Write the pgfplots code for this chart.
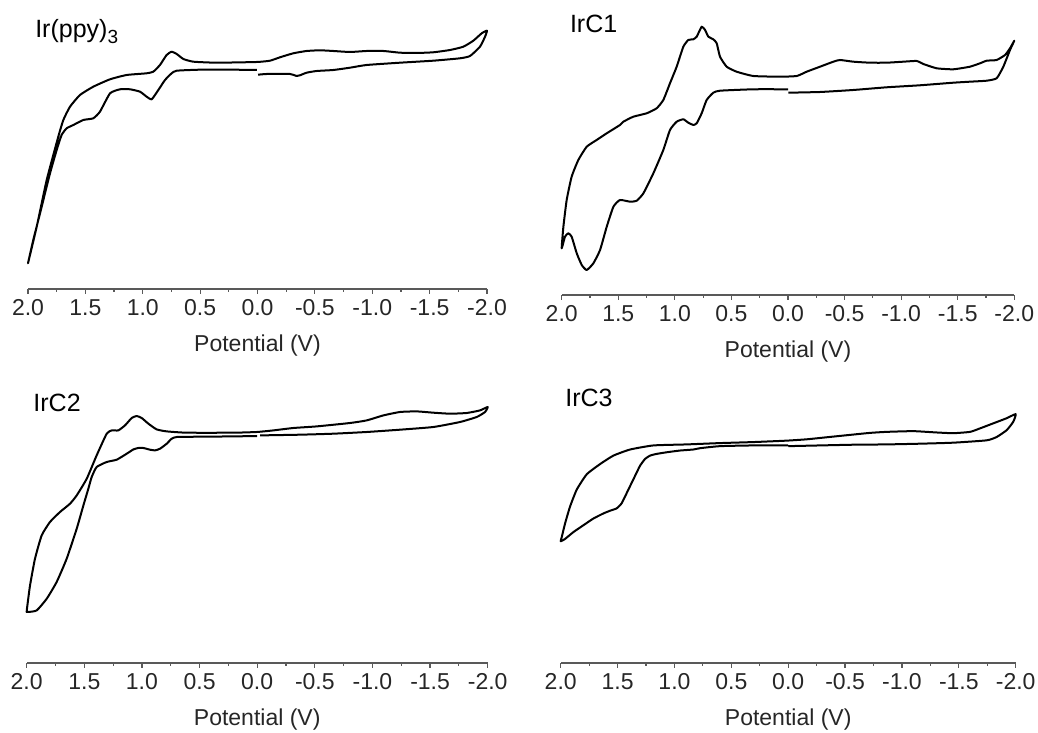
\documentclass[border=0pt]{standalone}
\usepackage{fontspec}
\setmainfont{Liberation Sans}
\usepackage{pgfplots}
\pgfplotsset{compat=1.18}

\tikzset{
  paneltitle/.style={anchor=base west, inner sep=0pt, font=\fontsize{12.5}{14}\selectfont},
}
\pgfplotsset{
  cvpanel/.style={
    scale only axis,
    anchor=south west,
    axis x line*=bottom,
    axis y line=none,
    x dir=reverse,
    xmin=-2, xmax=2,
    ymin=0,
    xtick={-2,-1.5,-1,-0.5,0,0.5,1,1.5,2},
    minor x tick num=1,
    tick align=outside,
    major tick length=2.5pt,
    minor tick length=1.5pt,
    every tick/.style={gray!70!black, line width=0.6pt},
    x axis line style={gray!70!black, line width=0.6pt},
    xticklabel style={font=\fontsize{11.5}{13}\selectfont, text=black!85,
                      anchor=base, yshift=-11pt},
    /pgf/number format/.cd, fixed, fixed zerofill, precision=1, assume math mode=true,
    /pgfplots/.cd,
    xlabel={Potential (V)},
    xlabel style={font=\fontsize{11.5}{13}\selectfont, text=black!85, yshift=-2.5pt},
    clip=false,
  },
  cv/.style={black, line width=1pt, smooth, tension=0.3, line join=round},
}

\begin{document}
\begin{tikzpicture}
\useasboundingbox (0,0) rectangle (519pt,366.5pt);

% Ir(ppy)3
\begin{axis}[cvpanel, at={(14pt,222pt)}, width=229.5pt, height=144.5pt, ymax=289]
\addplot[cv] coordinates {
(0.005,219) (0.211,219.3) (0.501,219.3) (0.704,218.3) (0.748,215.7) (0.806,209) (0.864,199)
(0.922,189.7) (0.966,192.3) (1.024,197.3) (1.111,199.7) (1.198,199.7) (1.285,195.7)
(1.373,177.3) (1.431,170.7) (1.518,169) (1.605,164) (1.663,160.7) (1.707,154) (1.750,139)
(1.808,115.7) (1.895,75.7) (1.954,49) (2.0,25.7)
(1.924,62.3) (1.837,109) (1.736,152.3) (1.692,169) (1.634,182.3) (1.547,194) (1.431,202.3)
(1.285,209.7) (1.140,214) (0.966,215.7) (0.908,217.3) (0.850,224) (0.792,234) (0.748,237.3)
(0.704,235) (0.646,230) (0.559,227.3) (0.356,226.3) (0.007,227) (-0.109,228.3) (-0.196,231.7)
(-0.312,235.7) (-0.428,238) (-0.545,238.7) (-0.661,238) (-0.806,237) (-0.951,238) (-1.097,238)
(-1.242,236.3) (-1.387,236) (-1.532,236.7) (-1.678,239) (-1.794,242.3) (-1.881,248.3)
(-1.954,255.7) (-2.0,258.3)
(-1.983,252.3) (-1.939,242.3) (-1.852,233) (-1.765,230.7) (-1.532,228.3) (-1.242,226.3)
(-0.951,224) (-0.806,221.3) (-0.661,219) (-0.516,218) (-0.428,216.3) (-0.370,213.7)
(-0.341,213) (-0.283,215) (-0.080,215) (-0.005,214.3)
};
\node[paneltitle] at (axis cs:1.94,251) {Ir(ppy)\raisebox{-0.45ex}{\fontsize{9.5}{10}\selectfont 3}};
\end{axis}

% IrC1
\begin{axis}[cvpanel, at={(280.85pt,219pt)}, width=226.3pt, height=147.5pt, ymax=295]
\addplot[cv] coordinates {
(0.0,205.7) (0.306,205.7) (0.601,204.3) (0.660,202.3) (0.719,195) (0.763,181.7) (0.807,171.7)
(0.837,170) (0.881,172.3) (0.925,175.7) (0.984,173.3) (1.043,165) (1.102,145) (1.190,121.7)
(1.278,101.7) (1.337,94.3) (1.396,93.3) (1.485,95) (1.543,88.3) (1.602,68.3) (1.661,45)
(1.720,31.7) (1.779,25) (1.823,30) (1.867,41.7) (1.912,58.3) (1.941,61.7) (1.971,58.3) (2.0,46.7)
(1.985,68.3) (1.956,95) (1.912,118.3) (1.853,135) (1.779,148.3) (1.691,155) (1.602,161.7)
(1.485,170) (1.455,173.3) (1.367,178.3) (1.249,181.7) (1.161,186.7) (1.102,195) (1.043,211.7)
(0.984,228.3) (0.925,248.3) (0.881,255) (0.837,255.7) (0.807,258.3) (0.763,268.3) (0.733,265)
(0.704,258.3) (0.660,255.7) (0.630,251.7) (0.601,238.3) (0.542,228.3) (0.454,223.3) (0.306,219)
(0.071,218.3) (-0.077,219) (-0.165,223.3) (-0.283,228.3) (-0.401,233.3) (-0.459,235)
(-0.577,233.3) (-0.725,232.3) (-0.872,232.3) (-1.019,233.3) (-1.137,234) (-1.196,231)
(-1.314,226.7) (-1.461,225.7) (-1.608,228.3) (-1.697,231.7) (-1.756,234.3) (-1.844,235)
(-1.918,240) (-1.962,246.7) (-2.0,254.3)
(-1.962,245) (-1.903,228.3) (-1.844,216.7) (-1.756,214.3) (-1.608,213.3) (-1.461,212.3)
(-1.166,209.7) (-0.872,207.7) (-0.577,205) (-0.283,203) (-0.003,202.3)
};
\node[paneltitle] at (axis cs:1.93,262) {IrC1};
\end{axis}

% IrC2
\begin{axis}[cvpanel, at={(13.35pt,35pt)}, width=230.5pt, height=141.8pt, ymax=283.6]
\addplot[cv] coordinates {
(0.0,227) (0.207,226.6) (0.496,226.3) (0.698,226) (0.742,224.3) (0.785,219.3) (0.843,214.3)
(0.886,212.6) (0.930,213.3) (0.988,215) (1.031,215) (1.074,213.6) (1.132,209.3) (1.219,203.3)
(1.306,201) (1.393,196) (1.436,186) (1.465,174.3) (1.508,157.6) (1.566,134.3) (1.653,104.3)
(1.740,81) (1.826,64.3) (1.913,52.6) (1.986,51) (2.0,51)
(1.994,57.6) (1.971,77.6) (1.928,104.3) (1.870,127.6) (1.798,141) (1.711,151) (1.624,159.3)
(1.566,167.6) (1.479,184.3) (1.393,207.6) (1.306,229.3) (1.262,232.6) (1.205,232.6)
(1.147,237.6) (1.089,245) (1.046,247) (1.002,245) (0.944,239.3) (0.872,233.6) (0.785,231.6)
(0.611,230.3) (0.207,230.3) (0.004,231) (-0.140,232.6) (-0.314,235) (-0.516,236.6)
(-0.806,240) (-0.950,242.6) (-1.095,247.6) (-1.239,251) (-1.384,251.6) (-1.529,250.3)
(-1.673,249.3) (-1.818,250) (-1.933,252.6) (-2.0,256)
(-1.977,251) (-1.905,246) (-1.760,241) (-1.529,236) (-1.239,233.3) (-0.950,231)
(-0.661,229.3) (-0.372,228.3) (-0.025,227.6)
};
\node[paneltitle] at (axis cs:1.945,251.3) {IrC2};
\end{axis}

% IrC3
\begin{axis}[cvpanel, at={(280.35pt,35pt)}, width=227.5pt, height=141.5pt, ymax=283]
\addplot[cv] coordinates {
(0.0,213.3) (0.306,213.3) (0.599,212.6) (0.775,210.6) (0.834,209.3) (0.951,208.3) (1.068,206.6)
(1.156,205) (1.215,203.3) (1.259,200) (1.303,193.3) (1.347,183.3) (1.405,170) (1.464,156.6)
(1.508,151.6) (1.566,149.3) (1.625,146.6) (1.713,141.6) (1.801,135) (1.889,128.3)
(1.962,121.6) (2.0,119.3)
(1.991,123.3) (1.962,136.6) (1.918,153.3) (1.859,170) (1.771,185) (1.654,195) (1.537,203.3)
(1.390,209.3) (1.185,213.3) (0.892,214.3) (0.599,215.6) (0.306,216.6) (0.013,218)
(-0.163,219.3) (-0.338,221.3) (-0.514,223.3) (-0.719,225.6) (-0.866,226.6) (-1.100,227.3)
(-1.305,226) (-1.452,225.3) (-1.599,226.6) (-1.686,230) (-1.804,235) (-1.921,240) (-2.0,244)
(-1.979,236.6) (-1.921,228.3) (-1.833,221.6) (-1.745,218.3) (-1.452,216) (-1.159,215)
(-0.866,214.3) (-0.573,214) (-0.280,213.3) (-0.001,212.6)
};
\node[paneltitle] at (axis cs:1.962,251.3) {IrC3};
\end{axis}
\end{tikzpicture}
\end{document}
